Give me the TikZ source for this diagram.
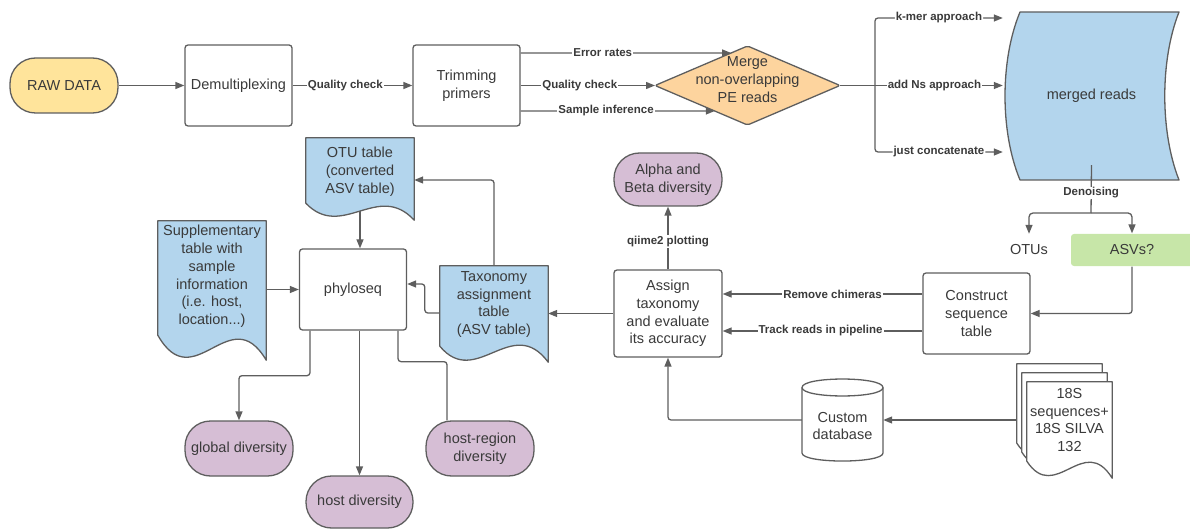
\documentclass[tikz,border=0pt]{standalone}
\usepackage{fontspec}
\setmainfont{Liberation Sans}
\usetikzlibrary{arrows.meta,calc}
\pgfdeclarelayer{bg}
\pgfdeclarelayer{shp}
\pgfsetlayers{bg,shp,main}
\definecolor{ln}{HTML}{5E5E5E}
\definecolor{tx}{HTML}{3A3A3A}
\definecolor{cyel}{HTML}{FFE49B}
\definecolor{cora}{HTML}{FDD49E}
\definecolor{cblu}{HTML}{B3D5ED}
\definecolor{cpur}{HTML}{D6BED5}
\definecolor{cgrn}{HTML}{C7E6A8}
\newcommand\dgmain{\fontsize{14.5}{17.8}\selectfont}
\newcommand\dglabel{\fontsize{11.5}{13}\selectfont\bfseries}
% [opts]{name}{left rise}{left ctrl}{right ctrl}{bottom below node}{offset}
\newcommand\docshape[7][]{%
  \path[shpline,#1] let \p1=($(#2.south west)+#7$), \p2=($(#2.north east)+#7$) in
  (\x1,\y2) -- (\x2,\y2) -- (\x2,{\y1-#6})
  .. controls ({\x1+2*(\x2-\x1)/3},{\y1-#6-(#5)}) and ({\x1+(\x2-\x1)/3},{\y1-#6-(#4)}) .. (\x1,{\y1-#6+#3}) -- cycle;}
\tikzset{
  conn/.style={draw=ln, line width=1.3pt},
  arr/.style={conn, -{Triangle[length=9pt,width=7pt]}},
  box/.style={draw=ln, line width=1.3pt, rounded corners=3pt, fill=white, text=tx, font=\dgmain, align=center, inner sep=0pt},
  stad/.style={box, rounded corners=25.5pt},
  txt/.style={text=tx, font=\dgmain, align=center, inner sep=0pt},
  lbl/.style={fill=white, text=tx, font=\dglabel, inner sep=1pt},
  shpline/.style={draw=ln, line width=1.3pt, line join=round}
}
\begin{document}
\begin{tikzpicture}[x=1pt,y=-1pt]
\useasboundingbox (0,0) rectangle (1190,529);
% nodes
\node[stad, fill=cyel, minimum width=108pt, minimum height=55pt] (raw) at (64,85.5) {RAW DATA};
\node[box, minimum width=107pt, minimum height=81pt] (demux) at (238.5,85.5) {Demultiplexing};
\node[box, minimum width=107pt, minimum height=81pt] (trim) at (466.5,85.5) {Trimming\\primers};
\coordinate (dN) at (747.5,46);
\coordinate (dE) at (840,85.5);
\coordinate (dS) at (747.5,125);
\coordinate (dW) at (655,85.5);
\node[txt] (merge) at (747.5,79.5) {Merge\\non-overlapping\\PE reads};
\node[txt, minimum width=177pt, minimum height=168pt] (merged) at (1091.5,96) {merged reads};
\coordinate (jn) at (875,85.5);
\coordinate (dn) at (1091,213);
\node[txt, minimum width=50pt, minimum height=32pt] (otus) at (1029,250) {OTUs};
\node[box, draw=none, fill=cgrn, minimum width=122pt, minimum height=32pt] (asv) at (1132,250) {ASVs?};
\node[box, minimum width=107pt, minimum height=81pt] (cst) at (976.5,313.5) {Construct\\sequence\\table};
\node[box, minimum width=108pt, minimum height=87pt] (assign) at (668,313.5) {Assign\\taxonomy\\and evaluate\\its accuracy};
\node[stad, fill=cpur, minimum width=108pt, minimum height=53pt] (alpha) at (668,179.5) {Alpha and\\Beta diversity};
\node[txt, minimum width=108pt, minimum height=77pt] (tax) at (494,304.5) {Taxonomy\\assignment\\table\\(ASV table)};
\node[txt, minimum width=108pt, minimum height=68pt] (otu) at (360,172) {OTU table\\(converted\\ASV table)};
\node[txt, minimum width=108pt, minimum height=111pt] (supp) at (212,276.5) {Supplementary\\table with\\sample\\information\\(i.e. host,\\location...)};
\node[box, minimum width=107pt, minimum height=81pt] (phylo) at (353,289.5) {phyloseq};
\node[stad, fill=cpur, minimum width=108pt, minimum height=55pt] (global) at (239,448.5) {global diversity};
\node[stad, fill=cpur, minimum width=107pt, minimum height=52pt] (host) at (359.5,502) {host diversity};
\node[stad, fill=cpur, minimum width=108pt, minimum height=55pt] (hostreg) at (480,448.5) {host-region\\diversity};
\node[txt, minimum width=81pt, minimum height=70pt] (db) at (842.5,426) {Custom\\database};
\node[txt, minimum width=85pt, minimum height=76pt] (silva) at (1069.5,420) {18S\\sequences+\\18S SILVA\\132};
% shapes
\begin{pgfonlayer}{shp}
\path[shpline, fill=cora, rounded corners=2pt] (dN) -- (dE) -- (dS) -- (dW) -- cycle;
\path[shpline, fill=cblu] (1020,12) -- (1179,12) .. controls (1160,60) and (1160,132) .. (1179,180) -- (1020,180) .. controls (1000,132) and (1000,60) .. (1020,12) -- cycle;
\docshape[fill=cblu]{tax}{16pt}{27.5pt}{-48.9pt}{19pt}{(0,0)}
\docshape[fill=cblu]{otu}{17pt}{20.7pt}{-39.4pt}{14pt}{(0,0)}
\docshape[fill=cblu]{supp}{25pt}{38.5pt}{-61.7pt}{28pt}{(0,0)}
\docshape[fill=white]{silva}{17pt}{26.2pt}{-46pt}{20pt}{(-10,-18)}
\docshape[fill=white]{silva}{17pt}{26.2pt}{-46pt}{20pt}{(-5,-9)}
\docshape[fill=white]{silva}{17pt}{26.2pt}{-46pt}{20pt}{(0,0)}
\path[shpline, fill=white] (802,387.5) -- (802,453) .. controls (802,463.7) and (883,463.7) .. (883,453) -- (883,387.5) .. controls (883,376.2) and (802,376.2) .. (802,387.5) -- cycle;
\path[shpline] (802,387.5) .. controls (802,398.8) and (883,398.8) .. (883,387.5);
\end{pgfonlayer}
% connectors
\begin{pgfonlayer}{bg}
\draw[arr] (raw) -- (demux);
\draw[arr] (demux) -- node[lbl, pos=0.44] (lq1) {Quality check} (trim);
\draw[arr] ([yshift=32.5pt]trim.east) -- node[lbl, pos=0.39] (ler) {Error rates} ($(dW)!0.823!(dN)$);
\draw[arr] (trim.east) -- node[lbl, pos=0.44] (lq2) {Quality check} (dW);
\draw[arr] ([yshift=-25.5pt]trim.east) -- node[lbl, pos=0.44] (lsi) {Sample inference} ($(dW)!0.646!(dS)$);
\draw[arr] (dE) -- node[lbl, pos=0.58] (lns) {add Ns approach} (dE -| merged.west);
\draw[arr, rounded corners=3pt] (jn) |- node[lbl, pos=0.75] (lkm) {k-mer approach} ([yshift=78pt]merged.west);
\draw[arr, rounded corners=3pt] (jn) |- node[lbl, pos=0.75] (ljc) {just concatenate} ([yshift=-56pt]merged.west);
\draw[arr, rounded corners=3pt] (asv.south) |- (cst.east);
\coordinate (rc) at ([yshift=19.5pt]cst.west);
\coordinate (tr) at ([yshift=-17.5pt]cst.west);
\draw[arr] (rc) -- node[lbl, pos=0.45] (lrc) {Remove chimeras} (rc -| assign.east);
\draw[arr] (tr) -- node[lbl, pos=0.51] (ltr) {Track reads in pipeline} (tr -| assign.east);
\draw[arr] (assign) -- node[lbl, pos=0.44] (lqp) {qiime2 plotting} (alpha);
\draw[arr] (assign.west) -- (assign.west -| tax.east);
\draw[arr, rounded corners=3pt] (tax.north) |- ([yshift=-8pt]otu.east);
\draw[arr] (otu.south) -- (otu.south |- phylo.north);
\draw[arr] (phylo.west -| supp.east) -- (phylo.west);
\draw[arr, rounded corners=3pt] ([yshift=-8.5pt]tax.west) -- ++(-15,0) |- ([yshift=5.5pt]phylo.east);
\draw[arr, rounded corners=3pt] ([xshift=-43pt]phylo.south) -- ++(0,45) -| (global.north);
\draw[arr] (host.north |- phylo.south) -- (host.north);
\draw[conn, rounded corners=3pt] ([xshift=45pt]phylo.south) -- ++(0,31) -| ([xshift=-33pt]hostreg.north);
\draw[arr, rounded corners=3pt] ([yshift=6pt]db.west) -| (assign.south);
\draw[arr] ([xshift=-10pt]silva.west) -- (silva.west -| db.east);
\end{pgfonlayer}
\draw[conn] ([yshift=15pt]merged.south) -- node[lbl, pos=0.58] (lden) {Denoising} (dn);
\draw[arr, rounded corners=4pt] (dn) -| (otus.north);
\draw[arr, rounded corners=4pt] (dn) -| (asv.north);
\end{tikzpicture}
\end{document}
